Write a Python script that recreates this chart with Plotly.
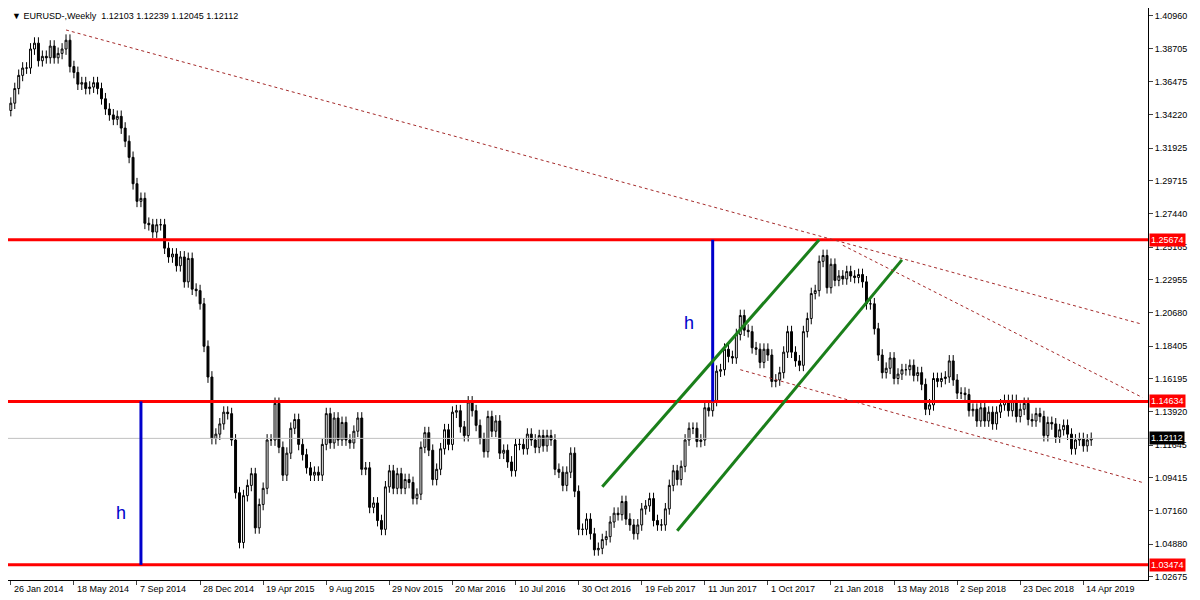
import plotly.graph_objects as go
import pandas as pd

closes = [1.350,
1.360,1.369,1.374,1.374, 1.387,1.391,1.379,1.382, 1.381,1.389,1.381,1.384, 1.387,1.393,1.375,1.371,1.363,
1.364,1.360,1.361,1.364, 1.360,1.353,1.346,1.342, 1.339,1.341,1.333,1.324,1.313, 1.295,1.283,1.285,1.268,
1.267,1.262,1.267,1.267,1.251, 1.245,1.247,1.239,1.245, 1.228,1.244,1.223,1.222,1.213,
1.184,1.163,1.121,1.124, 1.131,1.139,1.138,1.120, 1.084,1.050,1.082,1.089, 1.097,1.060,1.076,1.087,1.120,
1.120,1.145,1.115,1.096, 1.111,1.128,1.134,1.117, 1.110,1.101,1.096,1.098, 1.096,1.117,1.138,1.118,1.135,
1.120,1.132,1.120,1.118, 1.126,1.135,1.100,1.101, 1.074,1.077,1.065,1.059, 1.088,1.099,1.087,1.097,1.087,
1.093,1.091,1.080,1.083, 1.115,1.125,1.113,1.093, 1.100,1.114,1.127,1.117, 1.139,1.140,1.129,1.123,1.146,
1.140,1.130,1.121,1.112, 1.136,1.126,1.133,1.111, 1.113,1.105,1.099,1.117, 1.117,1.114,1.124,1.120,
1.115,1.123,1.116,1.123, 1.120,1.100,1.098,1.089,1.098, 1.111,1.085,1.059,1.059, 1.066,1.056,1.045,1.046,1.052,
1.054,1.064,1.070,1.069, 1.078,1.066,1.062,1.056, 1.062,1.073,1.075,1.080, 1.065,1.062,1.062,1.073,1.089,
1.099,1.093,1.102,1.120, 1.128,1.128,1.119,1.120,1.142, 1.140,1.147,1.167,1.168, 1.182,1.177,1.176,1.192,
1.205,1.195,1.194,1.183,1.182, 1.173,1.182,1.178,1.160, 1.161,1.166,1.180,1.194, 1.180,1.174,1.171,1.194,
1.203,1.220,1.222,1.242, 1.246,1.224,1.240,1.229, 1.232,1.230,1.235,1.232, 1.231,1.233,1.228,1.213,
1.213,1.196,1.178,1.166, 1.169,1.176,1.162,1.165, 1.168,1.168,1.171,1.164,1.166, 1.158,1.141,1.144,1.162,
1.160,1.162,1.163,1.174,1.161, 1.152,1.152,1.151,1.140, 1.141,1.133,1.142,1.133, 1.139,1.131,1.139,1.144,1.147,
1.140,1.147,1.136,1.141, 1.145,1.134,1.133,1.138, 1.136,1.123,1.132,1.131, 1.122,1.127,1.130,1.124,1.114,
1.120,1.121,1.116,1.120,1.12112]
first_open = 1.345
wick = 0.004

price_ticks = [1.40960,1.38705,1.36475,1.34220,1.31925,1.29715,1.27440,1.25165,1.22955,1.20680,
               1.18405,1.16195,1.13920,1.11645,1.09415,1.07160,1.04880,1.02675]
date_labels = ["26 Jan 2014","18 May 2014","7 Sep 2014","28 Dec 2014","19 Apr 2015","9 Aug 2015",
               "29 Nov 2015","20 Mar 2016","10 Jul 2016","30 Oct 2016","19 Feb 2017","11 Jun 2017",
               "1 Oct 2017","21 Jan 2018","13 May 2018","2 Sep 2018","23 Dec 2018","14 Apr 2019"]
levels = [1.25674, 1.14634, 1.03474]
last_price = 1.12112
h_lines = [("2014-09-14", 1.03474, 1.14634), ("2017-06-25", 1.14634, 1.25674)]
green_lines = [("2016-12-11", 1.088, "2017-12-31", 1.2567), ("2017-04-23", 1.058, "2018-05-27", 1.243)]
dotted_lines = [("2014-05-04", 1.400, "2019-07-28", 1.199), ("2018-02-11", 1.253, "2019-07-28", 1.149),
                ("2017-08-13", 1.168, "2019-07-28", 1.091)]

dates = pd.date_range("2014-01-26", periods=len(closes), freq="7D")
opens = [first_open] + closes[:-1]
highs = [max(o, c) + wick for o, c in zip(opens, closes)]
lows = [min(o, c) - wick for o, c in zip(opens, closes)]

fig = go.Figure()
fig.add_trace(go.Candlestick(x=dates, open=opens, high=highs, low=lows, close=closes,
    increasing=dict(fillcolor="white", line=dict(color="black", width=1)),
    decreasing=dict(fillcolor="black", line=dict(color="black", width=1)),
    whiskerwidth=0, showlegend=False, hoverinfo="skip"))

xr = [pd.Timestamp("2014-01-26") - pd.Timedelta(days=5), pd.Timestamp("2014-01-26") + pd.Timedelta(weeks=288.4)]
fig.add_trace(go.Scatter(x=xr, y=[last_price]*2, mode="lines", line=dict(color="#c0c0c0", width=1), showlegend=False))
for lv in levels:
    fig.add_trace(go.Scatter(x=xr, y=[lv]*2, mode="lines", line=dict(color="#ff0000", width=3), showlegend=False))
for d, y0, y1 in h_lines:
    fig.add_trace(go.Scatter(x=[d, d], y=[y0, y1], mode="lines", line=dict(color="#0000cc", width=3), showlegend=False))
for x0, y0, x1, y1 in green_lines:
    fig.add_trace(go.Scatter(x=[x0, x1], y=[y0, y1], mode="lines", line=dict(color="#1a7f1a", width=3), showlegend=False))
for x0, y0, x1, y1 in dotted_lines:
    fig.add_trace(go.Scatter(x=[x0, x1], y=[y0, y1], mode="lines", line=dict(color="#a52a2a", width=1, dash="dot"), showlegend=False))

ann = []
ann.append(dict(x="2014-08-10", y=1.070, text="h", showarrow=False, font=dict(size=18, color="#0000cc")))
ann.append(dict(x="2017-05-14", y=1.200, text="h", showarrow=False, font=dict(size=18, color="#0000cc")))
tick_dates = pd.date_range("2014-01-26", periods=len(date_labels), freq="112D")
for d, t in zip(tick_dates, date_labels):
    ann.append(dict(x=d, y=0, yref="paper", yanchor="top", xanchor="left", text=t, showarrow=False,
                    font=dict(size=9, color="black"), xshift=1, yshift=-2))
for lv in levels:
    ann.append(dict(x=1, xref="paper", y=lv, xanchor="left", text=f"{lv:.5f}", showarrow=False,
                    bgcolor="#ff0000", font=dict(size=9, color="white"), borderpad=1, xshift=1))
ann.append(dict(x=1, xref="paper", y=last_price, xanchor="left", text=f"{last_price:.5f}", showarrow=False,
                bgcolor="black", font=dict(size=9, color="white"), borderpad=1, xshift=1))
ann.append(dict(x=0, xref="paper", y=1, yref="paper", xanchor="left", yanchor="top",
                text="▼ EURUSD-,Weekly  1.12103 1.12239 1.12045 1.12112", showarrow=False,
                font=dict(size=9, color="black"), xshift=2, yshift=-1))

fig.update_layout(width=1192, height=592, margin=dict(l=0, r=52, t=0, b=20),
    paper_bgcolor="white", plot_bgcolor="white", annotations=ann,
    font=dict(family="Liberation Sans", size=9, color="black"),
    xaxis=dict(range=xr, rangeslider=dict(visible=False), showgrid=False, showticklabels=False,
               ticks="outside", tickvals=tick_dates, ticklen=4, showline=True, linecolor="black", mirror=True),
    yaxis=dict(range=[1.0244, 1.4150], side="right", tickvals=price_ticks, ticktext=[f"{v:.5f}" for v in price_ticks],
               showgrid=False, ticks="outside", ticklen=4, showline=True, linecolor="black", mirror=True,
               tickfont=dict(size=9)))
fig.write_html("out.html")
